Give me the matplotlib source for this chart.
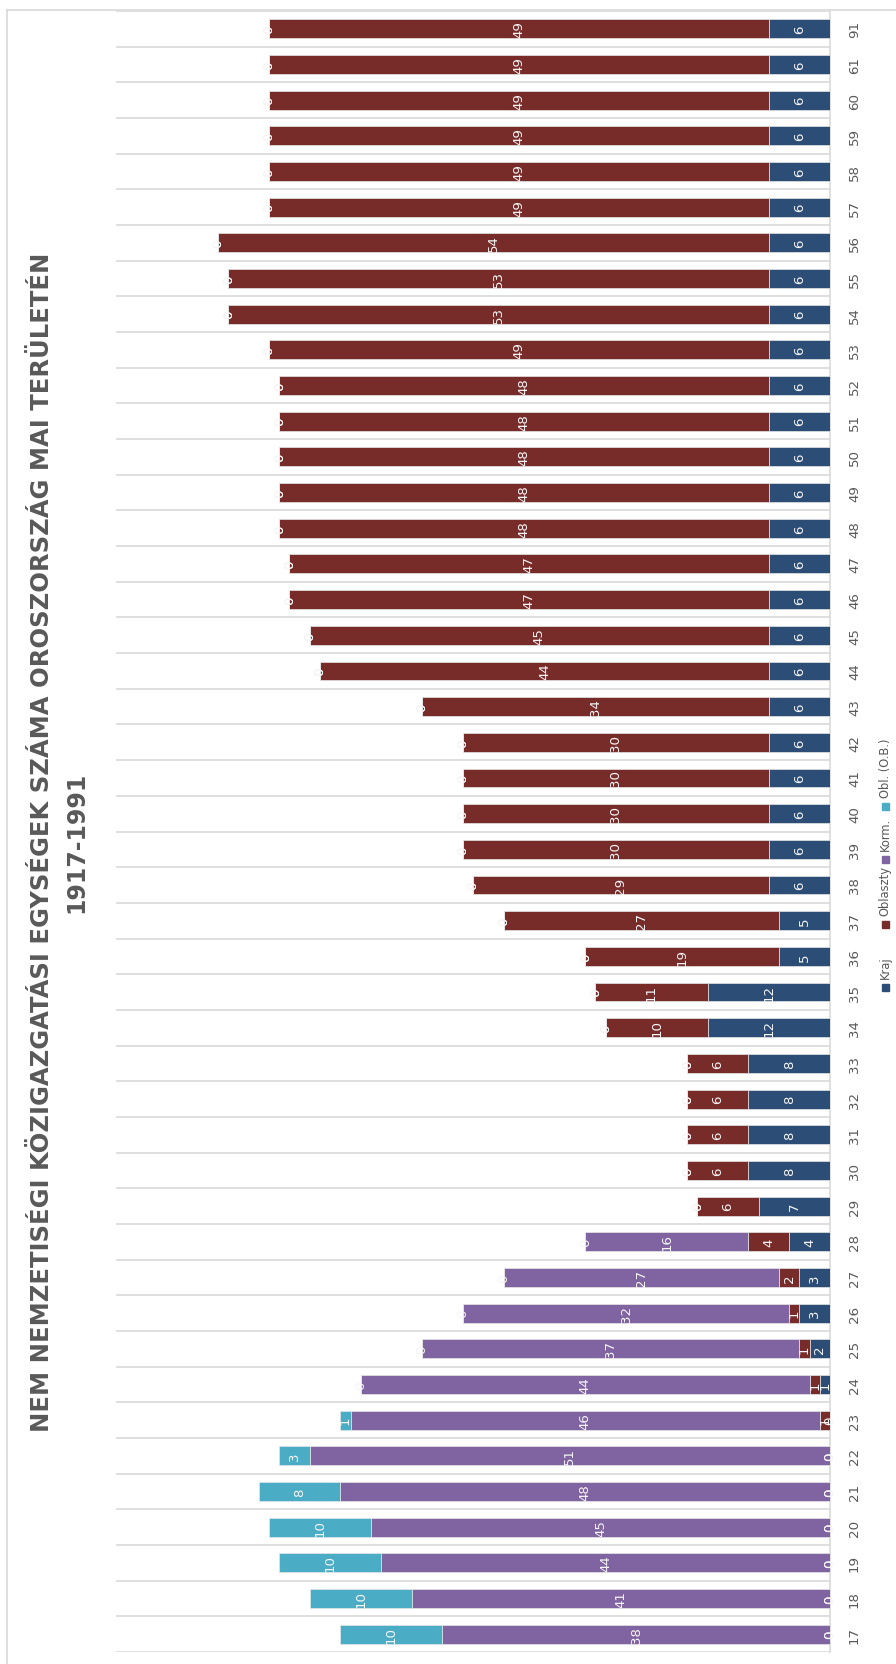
import matplotlib
matplotlib.use("Agg")
import matplotlib.pyplot as plt
import numpy as np
from matplotlib.lines import Line2D
from matplotlib.patches import Rectangle

# évek (két számjegy), alulról felfelé
years = ["17", "18", "19", "20", "21", "22", "23", "24", "25", "26", "27", "28",
         "29", "30", "31", "32", "33", "34", "35", "36", "37", "38", "39", "40",
         "41", "42", "43", "44", "45", "46", "47", "48", "49", "50", "51", "52",
         "53", "54", "55", "56", "57", "58", "59", "60", "61", "91"]

kraj = [0, 0, 0, 0, 0, 0, 0, 1, 2, 3, 3, 4,
        7, 8, 8, 8, 8, 12, 12, 5, 5, 6, 6, 6,
        6, 6, 6, 6, 6, 6, 6, 6, 6, 6, 6, 6,
        6, 6, 6, 6, 6, 6, 6, 6, 6, 6]
oblaszty = [0, 0, 0, 0, 0, 0, 1, 1, 1, 1, 2, 4,
            6, 6, 6, 6, 6, 10, 11, 19, 27, 29, 30, 30,
            30, 30, 34, 44, 45, 47, 47, 48, 48, 48, 48, 48,
            49, 53, 53, 54, 49, 49, 49, 49, 49, 49]
korm = [38, 41, 44, 45, 48, 51, 46, 44, 37, 32, 27, 16,
        0, 0, 0, 0, 0, 0, 0, 0, 0, 0, 0, 0,
        0, 0, 0, 0, 0, 0, 0, 0, 0, 0, 0, 0,
        0, 0, 0, 0, 0, 0, 0, 0, 0, 0]
obl_ob = [10, 10, 10, 10, 8, 3, 1, 0, 0, 0, 0, 0,
          0, 0, 0, 0, 0, 0, 0, 0, 0, 0, 0, 0,
          0, 0, 0, 0, 0, 0, 0, 0, 0, 0, 0, 0,
          0, 0, 0, 0, 0, 0, 0, 0, 0, 0]

series_names = ["Kraj", "Oblaszty", "Korm.", "Obl. (O.B.)"]
series_vals = [kraj, oblaszty, korm, obl_ob]
colors = ["#2c4d75", "#772c2a", "#8064a2", "#4bacc6"]

W, H = 896, 1665
fig = plt.figure(figsize=(W / 100, H / 100), dpi=100)
fig.patch.set_facecolor("white")

# rajzterület (pixelben mérve)
ax = fig.add_axes([116 / W, 12 / H, (830 - 116) / W, (1653 - 12) / H])

y = np.arange(len(years))
left = np.zeros(len(years))
for name, vals, c in zip(series_names, series_vals, colors):
    vals = np.array(vals, dtype=float)
    ax.barh(y, vals, left=left, height=0.53, color=c, edgecolor="#e6e6e6",
            linewidth=0.5, label=name, zorder=3)
    for yi, l, v in zip(y, left, vals):
        ax.text(l + v / 2, yi, f"{int(v)}", rotation=90, ha="center", va="center",
                color="#f5f5f5", fontsize=9.6, zorder=4)
    left = left + vals

ax.set_xlim(70, 0)
ax.set_ylim(-0.5, len(years) - 0.5)
ax.set_yticks(y)
ax.set_yticklabels(years, rotation=90, va="center", ha="left",
                   color="#595959", fontsize=9.6)
ax.yaxis.tick_right()
ax.tick_params(axis="y", length=0, pad=13)
ax.set_xticks([])
ax.set_yticks(np.arange(-0.5, len(years), 1), minor=True)
ax.tick_params(axis="y", which="minor", length=0)
ax.grid(True, axis="y", which="minor", color="#d9d9d9", linewidth=1.2, zorder=0)
ax.grid(False, which="major")
for s in ["left", "top", "bottom"]:
    ax.spines[s].set_visible(False)
ax.spines["right"].set_color("#d9d9d9")
ax.spines["right"].set_linewidth(1.2)

# diagram kerete
fig.add_artist(Line2D([7 / W, 7 / W], [0, 1 - 11 / H], transform=fig.transFigure,
                      color="#d9d9d9", linewidth=1.2))
fig.add_artist(Line2D([7 / W, 1], [1 - 11 / H, 1 - 11 / H], transform=fig.transFigure,
                      color="#d9d9d9", linewidth=1.2))

# cím
fig.text(42 / W, 1 - 842 / H,
         "NEM NEMZETISÉGI KÖZIGAZGATÁSI EGYSÉGEK SZÁMA OROSZORSZÁG MAI TERÜLETÉN",
         rotation=90, ha="center", va="center", fontsize=17.5, fontweight="bold",
         color="#595959")
fig.text(76 / W, 1 - 842 / H, "1917-1991", rotation=90, ha="center", va="center",
         fontsize=17, fontweight="bold", color="#595959")

# jelmagyarázat (elforgatva): (négyzet közepe, szöveg alsó vége) pixelben
leg_x = 885
leg_pos = [(988, 979), (925, 916), (860, 851), (807, 798)]
for (sq_y, txt_y), name, c in zip(leg_pos, series_names, colors):
    fig.add_artist(Rectangle(((leg_x - 3.5) / W, 1 - (sq_y + 3.5) / H), 7 / W, 7 / H,
                             transform=fig.transFigure, color=c))
    fig.text(leg_x / W, 1 - txt_y / H, name, rotation=90, ha="center", va="bottom",
             fontsize=8.3, color="#595959")

fig.savefig("out.png", dpi=100)
